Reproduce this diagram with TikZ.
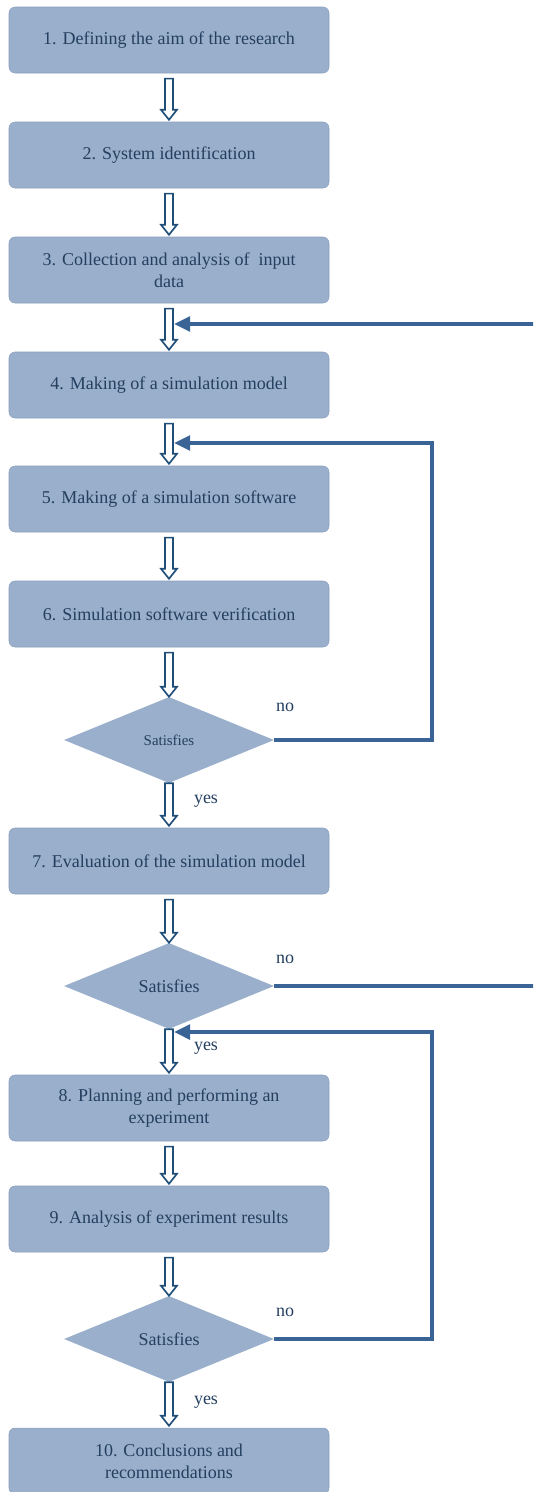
\documentclass[tikz,border=0pt]{standalone}
\usepackage{fontspec}
\setmainfont{Liberation Serif}
\usetikzlibrary{shapes.geometric,arrows.meta,calc}

\definecolor{boxblue}{RGB}{154,175,203}
\definecolor{edgeblue}{RGB}{138,160,190}
\definecolor{txtblue}{RGB}{36,63,96}
\definecolor{linkblue}{RGB}{59,100,150}
\definecolor{hollowblue}{RGB}{31,78,121}

\tikzset{
  stepbox/.style={rectangle, rounded corners=4.5pt, fill=boxblue, draw=edgeblue, line width=0.4pt,
    minimum width=240pt, minimum height=49.5pt, align=center, text=txtblue,
    font=\fontsize{13.5}{16.5}\selectfont},
  decision/.style={diamond, fill=boxblue, minimum width=157.5pt, minimum height=64.5pt,
    aspect=2.44, inner sep=0pt, text=txtblue, font=\fontsize{13.5}{16}\selectfont},
  hollow/.style={draw=hollowblue, fill=white, line width=1.25pt,
    to path={let \p1=(\tikztostart), \p2=(\tikztotarget) in
      (\x1-3pt,\y1) -- (\x1+3pt,\y1) -- (\x1+3pt,\y2+7.5pt) -- (\x1+6pt,\y2+7.5pt)
      -- (\x1,\y2) -- (\x1-6pt,\y2+7.5pt) -- (\x1-3pt,\y2+7.5pt) -- cycle}},
  back/.style={draw=linkblue, line width=2.6pt, -{Triangle[length=12pt,width=11pt]}},
  lbl/.style={text=txtblue, font=\fontsize{13.5}{16}\selectfont}
}

\begin{document}
\begin{tikzpicture}[x=0.75pt,y=-0.75pt]
\clip (0,0) rectangle (533,1492);

%Process boxes
\node[stepbox] (b1) at (169,40) {1. Defining the aim of the research};
\node[stepbox] (b2) at (169,155) {2. System identification};
\node[stepbox] (b3) at (169,270) {3. Collection and analysis of\ \ input\\data};
\node[stepbox] (b4) at (169,385) {4. Making of a simulation model};
\node[stepbox] (b5) at (169,499) {5. Making of a simulation software};
\node[stepbox] (b6) at (169,614) {6. Simulation software verification};
\node[stepbox] (b7) at (169,861) {7. Evaluation of the simulation model};
\node[stepbox] (b8) at (169,1108) {8. Planning and performing an\\experiment};
\node[stepbox] (b9) at (169,1219) {9. Analysis of experiment results};
\node[stepbox] (b10) at (169,1461) {10. Conclusions and\\recommendations};

%Flowchart: Decision
\node[decision, font=\fontsize{11.2}{13}\selectfont] (d1) at (169,740) {Satisfies};
\node[decision] (d2) at (169,986) {Satisfies};
\node[decision] (d3) at (169,1339) {Satisfies};

%Hollow arrows
\draw[hollow] ([yshift=-4pt]b1.south) to ([yshift=1.5pt]b2.north);
\draw[hollow] ([yshift=-4pt]b2.south) to ([yshift=1.5pt]b3.north);
\draw[hollow] ([yshift=-4pt]b3.south) to ([yshift=1.5pt]b4.north);
\draw[hollow] ([yshift=-4pt]b4.south) to ([yshift=1.5pt]b5.north);
\draw[hollow] ([yshift=-4pt]b5.south) to ([yshift=1.5pt]b6.north);
\draw[hollow] ([yshift=-4pt]b6.south) to (d1.north);
\draw[hollow] (d1.south) to ([yshift=1.5pt]b7.north);
\draw[hollow] ([yshift=-4pt]b7.south) to (d2.north);
\draw[hollow] (d2.south) to ([yshift=1.5pt]b8.north);
\draw[hollow] ([yshift=-4pt]b8.south) to ([yshift=1.5pt]b9.north);
\draw[hollow] ([yshift=-4pt]b9.south) to (d3.north);
\draw[hollow] (d3.south) to ([yshift=1.5pt]b10.north);

%Feedback lines
\coordinate (in4) at (174,324);
\coordinate (in5) at (174,443);
\coordinate (in8) at (174,1032);
\coordinate (far4) at (560,324);
\coordinate (c5) at (432,443);
\coordinate (c8) at (432,1032);
\draw[back] (d1.east) -| (c5) -- (in5);
\draw[back] (d2.east) -| (far4) -- (in4);
\draw[back] (d3.east) -| (c8) -- (in8);

% Text Node
\node[lbl] (no1) at (285,707) {no};
\node[lbl] (no2) at (285,959) {no};
\node[lbl] (no3) at (285,1312) {no};
\node[lbl] (yes1) at (206,801) {yes};
\node[lbl] (yes2) at (206,1048) {yes};
\node[lbl] (yes3) at (206,1402) {yes};

\end{tikzpicture}
\end{document}
